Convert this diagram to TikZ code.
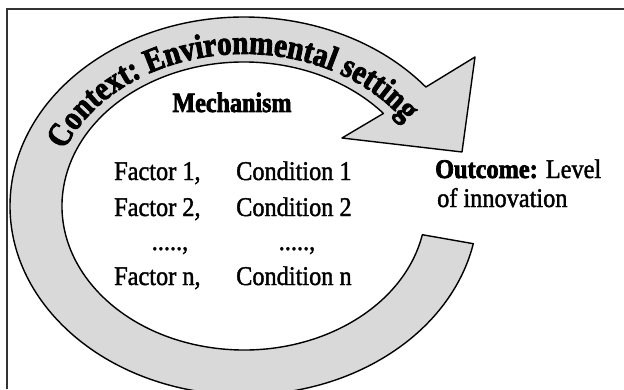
\documentclass[tikz,border=0pt]{standalone}
\usepackage{fontspec}
\setmainfont{Liberation Serif}
\newfontfamily\rowfamily[FakeBold=1.5, FakeStretch=0.9, BoldFeatures={FakeBold=2.5}]{Liberation Serif}
\newfontfamily\heavyfamily[FakeStretch=0.86, BoldFeatures={FakeBold=2.5}]{Liberation Serif}
\usetikzlibrary{decorations.text}
\definecolor{bandgray}{gray}{0.85}
\newcommand\ctxfont{\heavyfamily\bfseries\fontsize{34}{36}\selectfont}
\begin{document}
\begin{tikzpicture}[x=1pt,y=1pt,
  band/.style={draw=black, line width=1.4pt, fill=bandgray, line join=round},
  txt/.style={inner sep=0pt, anchor=base west, font=\rowfamily\fontsize{27}{30}\selectfont},
  frame/.style={draw=black!80, line width=1.6pt}]
\useasboundingbox (0,0) rectangle (624,389);
% frame (top and left edges)
\coordinate (fbl) at (7,0);
\coordinate (ftl) at (7,380);
\coordinate (ftr) at (625,380);
\draw[frame] (fbl) -- (ftl) -- (ftr);
% curved band arrow
\coordinate (barbT) at (475,332);
\coordinate (tip) at (462,237);
\coordinate (barbL) at (342,251);
\draw[band] (barbT) -- ([shift={(244,183)}]39:234 and 189)
  arc[start angle=39, end angle=348.5, x radius=234, y radius=189]
  -- ([shift={(244,183)}]348.5:182 and 144)
  arc[start angle=348.5, end angle=40, x radius=182, y radius=144]
  -- (barbL) -- (tip) -- cycle;
% text along band
\path[decorate, decoration={text along path,
   text={|\ctxfont|Context: Environmental setting}, text align=center}]
  ([shift={(244,183)}]164:193 and 152)
  arc[start angle=164, end angle=28, x radius=193, y radius=152];
% texts
\node[txt, anchor=base, font=\heavyfamily\bfseries\fontsize{28}{30}\selectfont] (mech) at (232,277) {Mechanism};
\node[txt] (f1) at (114,209) {Factor 1,};
\node[txt] (c1) at (236,209) {Condition 1};
\node[txt] (f2) at (114,173) {Factor 2,};
\node[txt] (c2) at (236,173) {Condition 2};
\node[txt, anchor=base] (fd) at (170,139) {.....,};
\node[txt, anchor=base] (cd) at (297,139) {.....,};
\node[txt] (fn) at (114,104) {Factor n,};
\node[txt] (cn) at (236,104) {Condition n};
\node[txt] (out1) at (435,211) {{\bfseries Outcome:} Level};
\node[txt] (out2) at (437,182) {of innovation};
\end{tikzpicture}
\end{document}
